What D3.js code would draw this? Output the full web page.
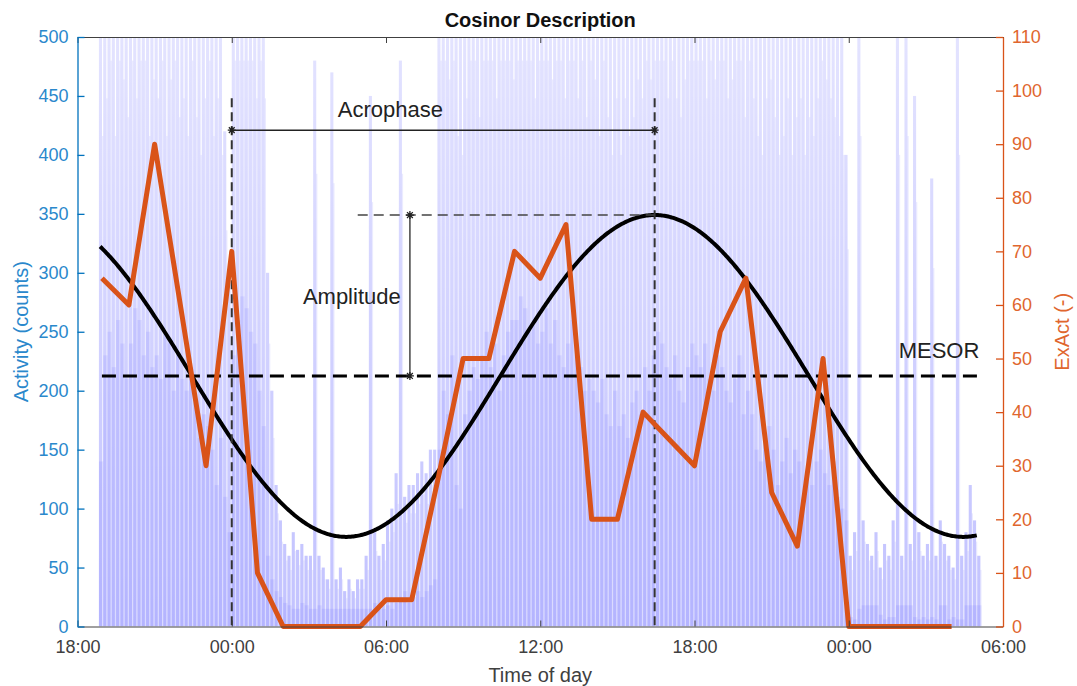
<!DOCTYPE html>
<html>
<head>
<meta charset="utf-8">
<script src="https://cdn.jsdelivr.net/npm/d3@7"></script>
<style>
  body { margin: 0; background: #fff; }
  text { font-family: "Liberation Sans", Arial, Helvetica, sans-serif; }
</style>
</head>
<body>
<div id="chart"></div>
<script>
var fullwidth = 1077;
var fullheight = 686;
var plot = {left: 77.5, right: 1003, top: 37, bottom: 626.5};

// x is hours after 18:00 on the first evening
var xTickHours = [0, 6, 12, 18, 24, 30, 36];
var xTickLabels = ["18:00", "00:00", "06:00", "12:00", "18:00", "00:00", "06:00"];
var yLeftTicks = [0, 50, 100, 150, 200, 250, 300, 350, 400, 450, 500];
var yRightTicks = [0, 10, 20, 30, 40, 50, 60, 70, 80, 90, 100, 110];

// activity counts in 10 minute bins from 18:00, one row per hour
var binMinutes = 10;
var actBase = [
  0, 0, 0, 0, 0, 140,            // 18
  230, 250, 220, 260, 240, 210,  // 19
  240, 270, 260, 230, 250, 220,  // 20
  230, 210, 250, 240, 200, 230,  // 21
  210, 200, 220, 190, 160, 180,  // 22
  170, 150, 120, 160, 110, 80,   // 23
  230, 260, 280, 270, 250, 240,  // 00
  200, 170, 60, 40, 30, 25,      // 01
  20, 18, 15, 15, 20, 18,        // 02
  15, 15, 18, 15, 15, 15,        // 03
  15, 15, 15, 15, 15, 15,        // 04
  15, 15, 15, 20, 15, 15,        // 05
  18, 15, 20, 25, 30, 20,        // 06
  25, 30, 25, 30, 35, 40,        // 07
  150, 200, 180, 230, 120, 100,  // 08
  180, 200, 220, 210, 230, 250,  // 09
  220, 240, 200, 230, 250, 260,  // 10
  260, 280, 270, 250, 260, 240,  // 11
  250, 270, 240, 260, 230, 220,  // 12
  240, 260, 230, 220, 200, 210,  // 13
  200, 190, 210, 180, 170, 200,  // 14
  170, 180, 160, 190, 200, 180,  // 15
  220, 200, 230, 250, 240, 220,  // 16
  210, 230, 200, 190, 220, 240,  // 17
  230, 220, 240, 210, 200, 230,  // 18
  220, 200, 190, 210, 230, 180,  // 19
  200, 180, 150, 140, 160, 170,  // 20
  150, 120, 140, 160, 130, 150,  // 21
  140, 110, 130, 120, 140, 150,  // 22
  130, 120, 140, 110, 100, 90,   // 23
  8, 6, 15, 18, 18, 18,          // 00
  18, 10, 6, 8, 8, 18,           // 01
  18, 18, 18, 8, 6, 8,           // 02
  6, 8, 6, 18, 18, 6,            // 03
  8, 6, 6, 18, 18, 18,           // 04
  18, 0, 0, 0, 0, 0              // 05
];
var actPeak = [
  0, 0, 0, 0, 0, 520,
  560, 600, 520, 600, 580, 540,
  600, 560, 600, 600, 520, 580,
  560, 600, 520, 580, 600, 540,
  560, 520, 600, 540, 500, 560,
  600, 520, 560, 500, 420, 300,
  600, 600, 600, 600, 600, 560,
  600, 560, 300, 200, 120, 90,
  70, 60, 80, 65, 70, 60,
  60, 480, 60, 50, 40, 470,
  40, 50, 30, 40, 30, 40,
  40, 60, 450, 80, 60, 70,
  90, 100, 130, 480, 110, 120,
  120, 130, 140, 130, 150, 150,
  600, 600, 580, 600, 520, 500,
  560, 600, 600, 540, 600, 600,
  600, 560, 600, 600, 600, 580,
  600, 600, 600, 600, 560, 600,
  600, 600, 580, 600, 600, 560,
  600, 600, 560, 600, 540, 600,
  580, 520, 600, 540, 500, 560,
  500, 560, 520, 540, 580, 560,
  600, 580, 600, 600, 600, 560,
  600, 560, 540, 580, 600, 600,
  600, 600, 560, 600, 580, 600,
  600, 560, 580, 600, 600, 540,
  600, 560, 520, 500, 560, 580,
  540, 500, 520, 560, 500, 540,
  560, 500, 540, 520, 560, 600,
  580, 560, 540, 520, 500, 400,
  60, 80, 520, 90, 70, 60,
  80, 50, 70, 60, 90, 500,
  60, 520, 70, 450, 80, 60,
  70, 380, 60, 90, 70, 60,
  50, 500, 60, 80, 120, 90,
  60, 0, 0, 0, 0, 0
];

// ExAct, hourly
var exactHours = [0.95, 2, 3, 4, 5, 6, 7, 8, 9, 10, 11, 12, 13, 14, 15, 16, 17,
                  18, 19, 20, 21, 22, 23, 24, 25, 26, 27, 28, 29, 30, 31, 32, 33, 34];
var exactValues = [65, 60, 90, 60, 30, 70, 10, 0, 0, 0, 0, 5, 5, 27, 50, 50, 70,
                   65, 75, 20, 20, 40, 35, 30, 55, 65, 25, 15, 50, 0, 0, 0, 0, 0];

// cosinor fit
var mesor = 212.5;
var amplitude = 136.5;
var acrophaseHour = 22.45;   // 16:27
var fitStart = 0.88, fitEnd = 34.98;
var midnightHour = 6;

var svg = d3.select("#chart").append("svg")
    .attr("width", fullwidth)
    .attr("height", fullheight);

var x = d3.scaleLinear().domain([0, 36]).range([plot.left, plot.right]);
var yL = d3.scaleLinear().domain([0, 500]).range([plot.bottom, plot.top]);
var yR = d3.scaleLinear().domain([0, 110]).range([plot.bottom, plot.top]);

var defs = svg.append("defs");
defs.append("clipPath").attr("id", "clip")
  .append("rect")
    .attr("x", plot.left).attr("y", plot.top)
    .attr("width", plot.right - plot.left)
    .attr("height", plot.bottom - plot.top);

var grad = defs.append("linearGradient").attr("id", "actGrad")
    .attr("gradientUnits", "userSpaceOnUse")
    .attr("x1", 0).attr("x2", 0).attr("y1", plot.top).attr("y2", plot.bottom);
grad.append("stop").attr("offset", "0%").attr("stop-color", "#0000ff").attr("stop-opacity", 0.11);
grad.append("stop").attr("offset", "60%").attr("stop-color", "#0000ff").attr("stop-opacity", 0.19);
grad.append("stop").attr("offset", "100%").attr("stop-color", "#0000ff").attr("stop-opacity", 0.24);

var plotArea = svg.append("g").attr("clip-path", "url(#clip)");

// activity bars
var binW = x(binMinutes / 60) - x(0);
var bins = actBase.map(function(d, i) {
    return {h: i * binMinutes / 60, base: d, peak: actPeak[i]};
}).filter(function(d) { return d.peak > 0; });

plotArea.selectAll("rect.haze")
    .data(bins)
  .enter().append("rect")
    .attr("class", "haze")
    .attr("x", function(d) { return x(d.h); })
    .attr("width", binW * 0.72)
    .attr("y", function(d) { return yL(d.peak); })
    .attr("height", function(d) { return yL(0) - yL(d.peak); })
    .attr("fill", "url(#actGrad)");

plotArea.selectAll("rect.spike")
    .data(bins)
  .enter().append("rect")
    .attr("class", "spike")
    .attr("x", function(d) { return x(d.h) + binW * 0.72; })
    .attr("width", binW * 0.28)
    .attr("y", function(d) { return yL(d.peak * 0.8); })
    .attr("height", function(d) { return yL(0) - yL(d.peak * 0.8); })
    .attr("fill", "#0000ff")
    .attr("fill-opacity", 0.08);

plotArea.selectAll("rect.base")
    .data(bins)
  .enter().append("rect")
    .attr("class", "base")
    .attr("x", function(d) { return x(d.h); })
    .attr("width", binW)
    .attr("y", function(d) { return yL(d.base); })
    .attr("height", function(d) { return yL(0) - yL(d.base); })
    .attr("fill", "#0000ff")
    .attr("fill-opacity", 0.07);

// MESOR
plotArea.append("line")
    .attr("x1", x(0.95)).attr("x2", x(35.05))
    .attr("y1", yL(mesor)).attr("y2", yL(mesor))
    .attr("stroke", "#000").attr("stroke-width", 3)
    .attr("stroke-dasharray", "14,7");

// cosine curve
var fitHours = d3.range(fitStart, fitEnd, 0.05).concat([fitEnd]);
plotArea.append("path")
    .datum(fitHours)
    .attr("fill", "none")
    .attr("stroke", "#000")
    .attr("stroke-width", 4)
    .attr("d", d3.line()
        .x(function(h) { return x(h); })
        .y(function(h) { return yL(mesor + amplitude * Math.cos(2 * Math.PI * (h - acrophaseHour) / 24)); }));

// annotations
var topLine = 448, acroLevel = 421;
[midnightHour, acrophaseHour].forEach(function(h) {
    svg.append("line")
        .attr("x1", x(h)).attr("x2", x(h))
        .attr("y1", yL(topLine)).attr("y2", yL(0))
        .attr("stroke", "#333").attr("stroke-width", 2)
        .attr("stroke-dasharray", "9,5");
});

svg.append("line")
    .attr("x1", x(10.9)).attr("x2", x(acrophaseHour))
    .attr("y1", yL(mesor + amplitude)).attr("y2", yL(mesor + amplitude))
    .attr("stroke", "#444").attr("stroke-width", 1.5)
    .attr("stroke-dasharray", "10,6");

svg.append("line")
    .attr("x1", x(midnightHour)).attr("x2", x(acrophaseHour))
    .attr("y1", yL(acroLevel)).attr("y2", yL(acroLevel))
    .attr("stroke", "#222").attr("stroke-width", 1.5);

var ampHour = 12.93;
svg.append("line")
    .attr("x1", x(ampHour)).attr("x2", x(ampHour))
    .attr("y1", yL(mesor + amplitude)).attr("y2", yL(mesor))
    .attr("stroke", "#444").attr("stroke-width", 1.5);

function star(cx, cy) {
    var r = 4, q = 2.9;
    svg.append("path")
        .attr("d", "M" + (cx - r) + "," + cy + "H" + (cx + r) +
                   "M" + cx + "," + (cy - r) + "V" + (cy + r) +
                   "M" + (cx - q) + "," + (cy - q) + "L" + (cx + q) + "," + (cy + q) +
                   "M" + (cx - q) + "," + (cy + q) + "L" + (cx + q) + "," + (cy - q))
        .attr("stroke", "#222").attr("stroke-width", 1.3).attr("fill", "none");
}
star(x(midnightHour), yL(acroLevel));
star(x(acrophaseHour), yL(acroLevel));
star(x(ampHour), yL(mesor + amplitude));
star(x(ampHour), yL(mesor));

svg.append("text").attr("x", x(12.17)).attr("y", yL(432))
    .attr("text-anchor", "middle").attr("font-size", 22).attr("fill", "#222")
    .text("Acrophase");
svg.append("text").attr("x", x(10.67)).attr("y", yL(273.5))
    .attr("text-anchor", "middle").attr("font-size", 22).attr("fill", "#222")
    .text("Amplitude");
svg.append("text").attr("x", x(35.08)).attr("y", yL(227.8))
    .attr("text-anchor", "end").attr("font-size", 22).attr("fill", "#222")
    .text("MESOR");

// ExAct line
var exact = exactHours.map(function(h, i) { return {h: h, v: exactValues[i]}; });
svg.append("path")
    .datum(exact)
    .attr("fill", "none")
    .attr("stroke", "#D95319")
    .attr("stroke-width", 5)
    .attr("stroke-linejoin", "round")
    .attr("d", d3.line()
        .x(function(d) { return x(d.h); })
        .y(function(d) { return yR(d.v); }));

// axes
var axisGray = "#404040";
var gTop = svg.append("g").attr("transform", "translate(0," + plot.top + ")")
    .call(d3.axisTop(x).tickValues(xTickHours).tickFormat("").tickSize(-6).tickSizeOuter(0));
gTop.selectAll("path, line").attr("stroke", axisGray);

var gBottom = svg.append("g").attr("transform", "translate(0," + plot.bottom + ")")
    .call(d3.axisBottom(x).tickValues(xTickHours)
        .tickFormat(function(d, i) { return xTickLabels[i]; })
        .tickSize(-6).tickSizeOuter(0).tickPadding(14));
gBottom.selectAll("path, line").attr("stroke", axisGray);
gBottom.selectAll("text").attr("font-size", 18).attr("fill", axisGray)
    .attr("font-family", "Liberation Sans, Arial, sans-serif");

var gLeft = svg.append("g").attr("transform", "translate(" + plot.left + ",0)")
    .call(d3.axisLeft(yL).tickValues(yLeftTicks).tickSize(-7).tickSizeOuter(0).tickPadding(9));
gLeft.selectAll("path, line").attr("stroke", "#0072BD").attr("stroke-width", 1.3);
gLeft.selectAll("text").attr("font-size", 18).attr("fill", "#2a88cc")
    .attr("font-family", "Liberation Sans, Arial, sans-serif");

var gRight = svg.append("g").attr("transform", "translate(" + plot.right + ",0)")
    .call(d3.axisRight(yR).tickValues(yRightTicks).tickSize(-7).tickSizeOuter(0).tickPadding(9));
gRight.selectAll("path, line").attr("stroke", "#D95319").attr("stroke-width", 1.3);
gRight.selectAll("text").attr("font-size", 18).attr("fill", "#e0662e")
    .attr("font-family", "Liberation Sans, Arial, sans-serif");

// labels
svg.append("text")
    .attr("x", (plot.left + plot.right) / 2).attr("y", 27)
    .attr("text-anchor", "middle").attr("font-size", 20).attr("font-weight", "bold")
    .attr("fill", "#111")
    .text("Cosinor Description");

svg.append("text")
    .attr("x", (plot.left + plot.right) / 2).attr("y", 682)
    .attr("text-anchor", "middle").attr("font-size", 20).attr("fill", axisGray)
    .text("Time of day");

svg.append("text")
    .attr("transform", "translate(28," + (plot.top + plot.bottom) / 2 + ") rotate(-90)")
    .attr("text-anchor", "middle").attr("font-size", 20).attr("fill", "#2a88cc")
    .text("Activity (counts)");

svg.append("text")
    .attr("transform", "translate(1069," + (plot.top + plot.bottom) / 2 + ") rotate(-90)")
    .attr("text-anchor", "middle").attr("font-size", 20).attr("fill", "#e0662e")
    .text("ExAct (-)");
</script>
</body>
</html>
